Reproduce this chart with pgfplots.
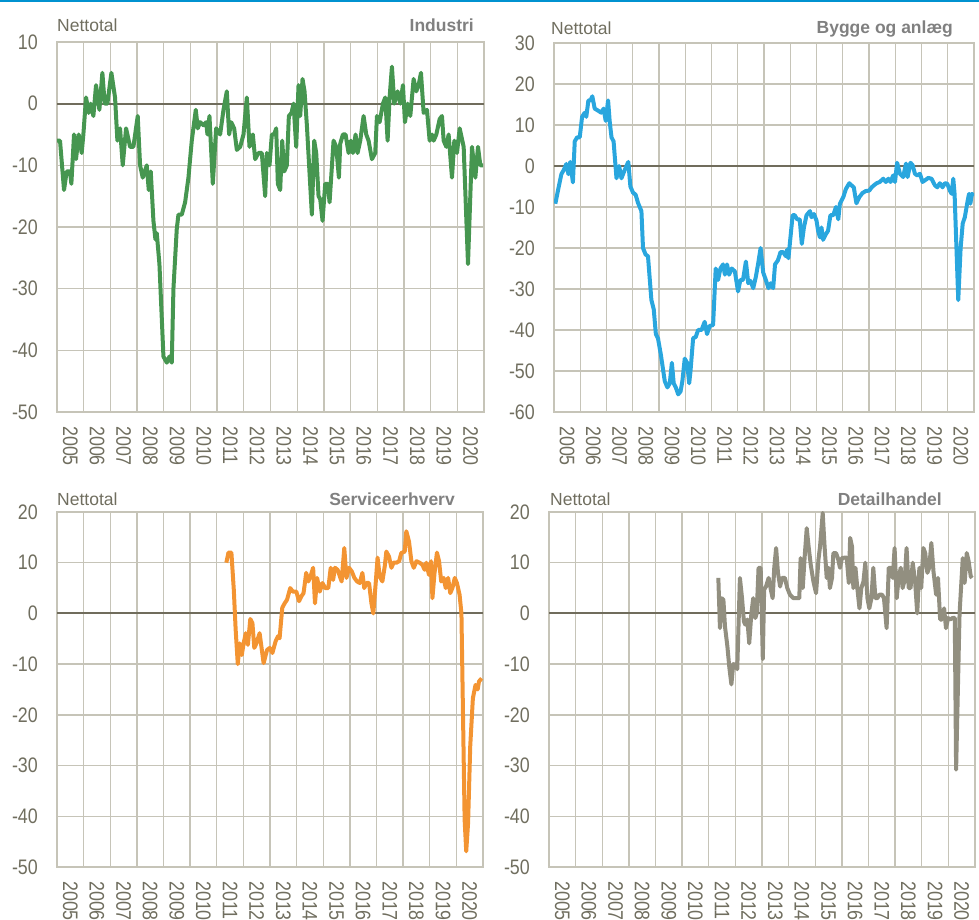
\documentclass[border=0pt]{standalone}
\usepackage{pgfplots}
\pgfplotsset{compat=1.18}
\usepackage{fontspec}
\setmainfont{Liberation Sans}
\newfontfamily\narrowfont{Liberation Sans}[FakeStretch=0.85]
\definecolor{txt}{RGB}{112,110,95}
\definecolor{ttl}{RGB}{128,128,128}
\definecolor{gridc}{RGB}{198,196,184}
\definecolor{zeroc}{RGB}{112,108,92}
\definecolor{cind}{RGB}{70,150,80}
\definecolor{cbyg}{RGB}{41,166,222}
\definecolor{cser}{RGB}{243,148,50}
\definecolor{cdet}{RGB}{146,143,128}
\definecolor{topblue}{RGB}{0,146,208}
\pgfplotsset{panel/.style={
  scale only axis, anchor=south west,
  xmin=2005, xmax=2021,
  xtick={2005.5,2006.5,2007.5,2008.5,2009.5,2010.5,2011.5,2012.5,2013.5,2014.5,2015.5,2016.5,2017.5,2018.5,2019.5,2020.5},
  xticklabels={2005,2006,2007,2008,2009,2010,2011,2012,2013,2014,2015,2016,2017,2018,2019,2020},
  minor xtick={2006,2007,2008,2009,2010,2011,2012,2013,2014,2015,2016,2017,2018,2019,2020},
  xminorgrids=true, ymajorgrids=true,
  major tick length=0pt, minor tick length=0pt,
  grid style={gridc, line width=1.3pt},
  minor grid style={gridc, line width=1.3pt},
  axis line style={gridc, line width=1.3pt},
  ticklabel style={font=\narrowfont\fontsize{21}{24}\selectfont, text=txt},
  xticklabel style={rotate=-90, anchor=west, inner sep=0pt},
  xticklabel shift=14pt,
  yticklabel style={anchor=east, inner sep=0pt},
  yticklabel shift=19pt,
}}
\begin{document}
\begin{tikzpicture}
\useasboundingbox (0,0) rectangle (979pt,920pt);
\fill[topblue] (0,918.3pt) rectangle (979pt,920pt);

% Industri
\begin{axis}[panel, at={(57pt,508pt)}, width=427pt, height=370pt,
  ymin=-50, ymax=10, ytick={-50,-40,-30,-20,-10,0,10},
  yticklabels={-50,-40,-30,-20,-10,0,10}]
\addplot[zeroc, line width=2pt, forget plot] coordinates {(2005,0) (2021,0)};
\addplot[cind, line width=4pt, line join=round] coordinates {
(2005.000,-6)(2005.113,-6)(2005.263,-14)(2005.363,-11)(2005.488,-11)(2005.538,-13)
(2005.638,-5)(2005.713,-9)(2005.813,-5)(2005.925,-8)(2005.988,-5)(2006.088,1)
(2006.188,-1.5)(2006.263,0)(2006.363,-2)(2006.463,3)(2006.588,-1)(2006.700,5)
(2006.788,0)(2006.888,0)(2007.038,5)(2007.175,1)(2007.263,-6)(2007.363,-4)
(2007.463,-10)(2007.588,-4)(2007.738,-7)(2007.863,-7)(2008.025,-2)(2008.113,-10)
(2008.213,-12)(2008.363,-10)(2008.438,-14)(2008.513,-11)(2008.613,-19)(2008.688,-22)
(2008.738,-21)(2008.838,-26)(2008.988,-41)(2009.113,-42)(2009.213,-41)(2009.300,-42)
(2009.363,-30)(2009.488,-20.3)(2009.550,-18)(2009.675,-18)(2009.800,-16)(2009.925,-12)
(2010.050,-6)(2010.200,-1)(2010.275,-4)(2010.363,-3)(2010.488,-3.5)(2010.588,-3)
(2010.638,-5)(2010.713,-2)(2010.838,-13)(2010.963,-4)(2011.113,-5)(2011.238,-1)
(2011.363,2)(2011.450,-5)(2011.525,-3)(2011.638,-4)(2011.738,-7.5)(2011.863,-7)
(2011.988,-5)(2012.113,1)(2012.213,-7)(2012.338,-5)(2012.425,-9)(2012.550,-8)
(2012.675,-8)(2012.800,-15)(2012.863,-8)(2012.963,-10)(2013.050,-5)(2013.138,-5)
(2013.213,-4)(2013.275,-13)(2013.363,-14)(2013.438,-6)(2013.513,-11)(2013.613,-10)
(2013.688,-2)(2013.788,-1.5)(2013.863,0)(2013.963,-7)(2014.050,3)(2014.113,-2)
(2014.200,4)(2014.275,2)(2014.363,-3.5)(2014.550,-18)(2014.638,-6)(2014.713,-8)
(2014.800,-15)(2014.863,-15.5)(2014.950,-19)(2015.050,-13)(2015.150,-13)(2015.213,-16)
(2015.363,-6)(2015.463,-7)(2015.563,-12)(2015.613,-6.5)(2015.713,-5)(2015.813,-5)
(2015.925,-8)(2016.013,-6)(2016.088,-8)(2016.188,-5)(2016.263,-8)(2016.363,-6)
(2016.488,-2)(2016.588,-5)(2016.675,-6)(2016.800,-9)(2016.925,-8)(2016.988,-2)
(2017.088,-3)(2017.213,0)(2017.300,1)(2017.388,-6)(2017.463,1)(2017.550,6)
(2017.638,0)(2017.763,2)(2017.863,0)(2017.963,3)(2018.038,-3)(2018.138,0)
(2018.238,-2)(2018.363,4)(2018.463,2)(2018.550,3)(2018.638,5)(2018.738,-1.5)
(2018.863,-1)(2018.963,-6)(2019.050,-5)(2019.113,-6)(2019.213,-5)(2019.338,-2.5)
(2019.425,-2)(2019.488,-6)(2019.588,-7)(2019.675,-5)(2019.800,-12)(2019.888,-6)
(2019.988,-8)(2020.088,-4)(2020.238,-7)(2020.400,-26)(2020.550,-7)(2020.675,-12)
(2020.775,-7)(2020.863,-10)(2020.963,-10)};
\end{axis}

% Bygge og anlaeg
\begin{axis}[panel, at={(554pt,508pt)}, width=420pt, height=369pt,
  ymin=-60, ymax=30, ytick={-60,-50,-40,-30,-20,-10,0,10,20,30},
  yticklabels={-60,-50,-40,-30,-20,-10,0,10,20,30}]
\addplot[zeroc, line width=2pt, forget plot] coordinates {(2005,0) (2021,0)};
\addplot[cbyg, line width=4pt, line join=round] coordinates {
(2005.05,-9.2)(2005.15,-6)(2005.28,-2)(2005.37,-1)(2005.47,0.5)(2005.55,-2)
(2005.62,1)(2005.72,-4)(2005.79,6)(2005.88,7)(2005.98,7)(2006.07,12)
(2006.17,13)(2006.23,12)(2006.31,16)(2006.39,16)(2006.46,17)(2006.55,14)
(2006.68,13.5)(2006.80,13)(2006.89,14)(2006.97,11)(2007.06,16)(2007.12,11)
(2007.19,7)(2007.27,6)(2007.38,-3)(2007.48,0)(2007.57,-3)(2007.66,-1.5)
(2007.76,0)(2007.83,1)(2007.91,-5)(2008.01,-6.5)(2008.11,-7)(2008.20,-9)
(2008.33,-11)(2008.39,-20)(2008.49,-21.6)(2008.58,-22)(2008.71,-32.7)(2008.80,-35)
(2008.88,-41)(2008.96,-42)(2009.07,-46)(2009.22,-52.5)(2009.32,-54)(2009.41,-53)
(2009.49,-48)(2009.56,-53)(2009.64,-54)(2009.73,-55.7)(2009.82,-55)(2009.89,-52.5)
(2009.98,-47)(2010.07,-48)(2010.15,-53)(2010.20,-50)(2010.30,-42)(2010.40,-41.7)
(2010.49,-40)(2010.62,-40)(2010.74,-38)(2010.83,-41)(2010.93,-39)(2011.06,-38.8)
(2011.16,-25)(2011.25,-27.8)(2011.34,-25)(2011.44,-24)(2011.51,-26.5)(2011.59,-24)
(2011.67,-26.5)(2011.77,-25)(2011.89,-25.7)(2012.01,-30.6)(2012.10,-27.8)(2012.20,-27.8)
(2012.31,-23.3)(2012.40,-28.6)(2012.48,-28)(2012.59,-29.8)(2012.69,-27)(2012.78,-23.7)
(2012.87,-20)(2012.97,-26)(2013.07,-27.8)(2013.17,-29.8)(2013.25,-28.6)(2013.35,-29.8)
(2013.42,-24)(2013.53,-23)(2013.63,-21)(2013.73,-21)(2013.83,-22)(2013.88,-20.4)
(2013.93,-22.5)(2014.09,-12)(2014.17,-12)(2014.26,-13)(2014.36,-13)(2014.44,-19)
(2014.52,-15)(2014.62,-12)(2014.75,-11)(2014.81,-12.5)(2014.90,-11.7)(2015.00,-13.3)
(2015.06,-15.8)(2015.13,-17.4)(2015.19,-15)(2015.25,-18)(2015.36,-16.6)(2015.44,-15.8)
(2015.53,-12)(2015.64,-12)(2015.74,-10)(2015.83,-13)(2015.89,-9.2)(2016.02,-7.6)
(2016.12,-5.6)(2016.25,-4.2)(2016.33,-4.7)(2016.42,-5.2)(2016.52,-9.1)(2016.63,-7.6)
(2016.75,-6.6)(2016.88,-6.1)(2017.01,-6)(2017.10,-5.2)(2017.19,-4.7)(2017.29,-4.2)
(2017.41,-3.9)(2017.54,-3.1)(2017.64,-3.9)(2017.74,-3.1)(2017.82,-3.9)(2017.92,-2.3)
(2017.99,-3.9)(2018.07,0.8)(2018.18,-1.9)(2018.30,-2.7)(2018.41,0.6)(2018.47,-2.7)
(2018.58,0.8)(2018.66,0.2)(2018.75,-1.9)(2018.84,-2.3)(2018.94,-1.9)(2019.04,-3.9)
(2019.13,-3.5)(2019.26,-2.9)(2019.38,-3.1)(2019.51,-4.7)(2019.60,-5.2)(2019.70,-4.2)
(2019.80,-5.2)(2019.89,-4.2)(2019.98,-4.3)(2020.08,-6)(2020.15,-6.8)(2020.21,-3.1)
(2020.26,-6.8)(2020.40,-32.7)(2020.49,-20)(2020.57,-14)(2020.65,-12.5)(2020.76,-8.4)
(2020.81,-6.8)(2020.86,-9.2)(2020.92,-6.8)(2021.00,-7.2)};
\end{axis}

% Serviceerhverv
\begin{axis}[panel, at={(57pt,53pt)}, width=426pt, height=355pt,
  ymin=-50, ymax=20, ytick={-50,-40,-30,-20,-10,0,10,20},
  yticklabels={-50,-40,-30,-20,-10,0,10,20}]
\addplot[zeroc, line width=2pt, forget plot] coordinates {(2005,0) (2021,0)};
\addplot[cser, line width=4pt, line join=round] coordinates {
(2011.36,10)(2011.44,12)(2011.55,12)(2011.64,4.7)(2011.71,-3.2)(2011.79,-10)
(2011.86,-5.9)(2011.94,-8.2)(2012.01,-5.9)(2012.09,-3.9)(2012.17,-6.2)(2012.26,-1.1)
(2012.34,-1.9)(2012.41,-6.8)(2012.49,-5.9)(2012.61,-3.9)(2012.76,-9.8)(2012.89,-7.2)
(2012.99,-6.8)(2013.09,-7.8)(2013.21,-5.5)(2013.30,-4.5)(2013.36,-4.9)(2013.46,1.1)
(2013.55,2)(2013.64,2.7)(2013.76,5)(2013.86,4.3)(2013.99,4.3)(2014.09,2.4)
(2014.18,3.4)(2014.26,4)(2014.36,8)(2014.44,6.3)(2014.52,7.3)(2014.62,9)
(2014.69,2)(2014.77,7)(2014.87,4.3)(2014.97,6)(2015.07,5)(2015.19,5)
(2015.28,9)(2015.37,6.6)(2015.44,9)(2015.54,8.6)(2015.69,6.3)(2015.79,12.9)
(2015.87,7)(2015.97,9)(2016.07,8.3)(2016.17,7)(2016.27,6.3)(2016.37,6)
(2016.47,8)(2016.54,5)(2016.62,6)(2016.72,6)(2016.81,2)(2016.88,0)
(2016.97,6)(2017.04,11)(2017.12,7.3)(2017.22,6.3)(2017.31,9.3)(2017.37,12.2)
(2017.47,11.2)(2017.56,9)(2017.64,10)(2017.75,10)(2017.85,10.3)(2017.93,11.9)
(2018.06,12.2)(2018.12,16.2)(2018.22,14.2)(2018.31,10.3)(2018.40,9)(2018.50,10.3)
(2018.62,10)(2018.72,9.6)(2018.81,8.6)(2018.87,10)(2018.97,7.6)(2019.05,10.3)
(2019.10,3)(2019.18,8)(2019.27,12)(2019.35,10.3)(2019.43,6.3)(2019.52,7)
(2019.60,5)(2019.69,7)(2019.77,4)(2019.85,5)(2019.94,7)(2020.02,6)
(2020.12,3.7)(2020.19,0)(2020.31,-40.7)(2020.37,-46.9)(2020.44,-41.3)(2020.52,-26.2)
(2020.62,-16.7)(2020.72,-14.1)(2020.80,-15)(2020.85,-13.4)(2020.95,-12.8)};
\end{axis}

% Detailhandel
\begin{axis}[panel, at={(549pt,53pt)}, width=426pt, height=355pt,
  ymin=-50, ymax=20, ytick={-50,-40,-30,-20,-10,0,10,20},
  yticklabels={-50,-40,-30,-20,-10,0,10,20}]
\addplot[zeroc, line width=2pt, forget plot] coordinates {(2005,0) (2021,0)};
\addplot[cdet, line width=4pt, line join=round] coordinates {
(2011.36,7)(2011.42,-2.9)(2011.49,3)(2011.55,2.7)(2011.61,-2.6)(2011.70,-6.5)
(2011.77,-10.5)(2011.85,-14)(2011.92,-10)(2012.00,-10.1)(2012.07,-11)(2012.17,7)
(2012.25,3)(2012.32,-1.6)(2012.37,-2.2)(2012.45,-1.2)(2012.52,-5.9)(2012.60,0)
(2012.67,3)(2012.75,-0.9)(2012.80,0)(2012.87,9)(2012.95,9)(2013.03,-9)
(2013.08,4.7)(2013.15,5.3)(2013.25,7)(2013.33,4.7)(2013.40,3)(2013.46,9)
(2013.53,12.9)(2013.60,8)(2013.68,5.3)(2013.75,7)(2013.86,7)(2013.95,5)
(2014.05,3.7)(2014.18,3)(2014.30,3)(2014.40,3)(2014.45,10.9)(2014.53,5)
(2014.60,11)(2014.68,16.8)(2014.75,13.2)(2014.83,9.6)(2014.93,6.3)(2015.03,4)
(2015.12,10.6)(2015.18,13.2)(2015.28,19.8)(2015.35,13.2)(2015.43,7)(2015.50,9)
(2015.55,5)(2015.63,7)(2015.68,11.9)(2015.78,11.9)(2015.85,10.9)(2015.93,9)
(2016.00,10.9)(2016.10,11)(2016.18,11)(2016.26,6)(2016.31,14.9)(2016.38,13.2)
(2016.43,5)(2016.51,9)(2016.58,5)(2016.66,1)(2016.73,5)(2016.81,6.3)
(2016.88,10)(2016.96,3)(2017.03,1)(2017.11,3)(2017.18,9)(2017.26,3)
(2017.33,3)(2017.41,3.7)(2017.51,3.7)(2017.58,3)(2017.68,-2.9)(2017.76,9)
(2017.83,9)(2017.91,7)(2017.98,12.9)(2018.06,3)(2018.13,7)(2018.21,9)
(2018.28,5)(2018.36,6.6)(2018.43,12.9)(2018.51,5)(2018.58,5)(2018.66,10)
(2018.75,6.3)(2018.83,0)(2018.91,9)(2018.98,5)(2019.06,12.9)(2019.13,11.9)
(2019.21,8)(2019.28,9)(2019.36,13.9)(2019.44,8.3)(2019.54,3.7)(2019.61,7)
(2019.69,-1.2)(2019.76,-1.2)(2019.84,1)(2019.91,-2.9)(2019.99,-0.9)(2020.06,-1.2)
(2020.16,-0.9)(2020.24,-0.9)(2020.29,-30.8)(2020.42,0)(2020.54,10.9)(2020.61,6)
(2020.69,11.9)(2020.76,10.3)(2020.84,7.3)(2020.89,7)};
\end{axis}

\begin{scope}[every node/.style={inner sep=0pt, font=\fontsize{17.5}{20}\selectfont}]
\node[anchor=base west, text=txt] at (57pt,888pt) {Nettotal};
\node[anchor=base east, text=ttl, font=\bfseries\fontsize{17.5}{20}\selectfont] at (474pt,888pt) {Industri};
\node[anchor=base west, text=txt] at (551pt,885pt) {Nettotal};
\node[anchor=base east, text=ttl, font=\bfseries\fontsize{17.5}{20}\selectfont] at (953pt,886pt) {Bygge og anlæg};
\node[anchor=base west, text=txt] at (57pt,414pt) {Nettotal};
\node[anchor=base east, text=ttl, font=\bfseries\fontsize{17.5}{20}\selectfont] at (455pt,414pt) {Serviceerhverv};
\node[anchor=base west, text=txt] at (550pt,414pt) {Nettotal};
\node[anchor=base east, text=ttl, font=\bfseries\fontsize{17.5}{20}\selectfont] at (942pt,414pt) {Detailhandel};
\end{scope}
\end{tikzpicture}
\end{document}
